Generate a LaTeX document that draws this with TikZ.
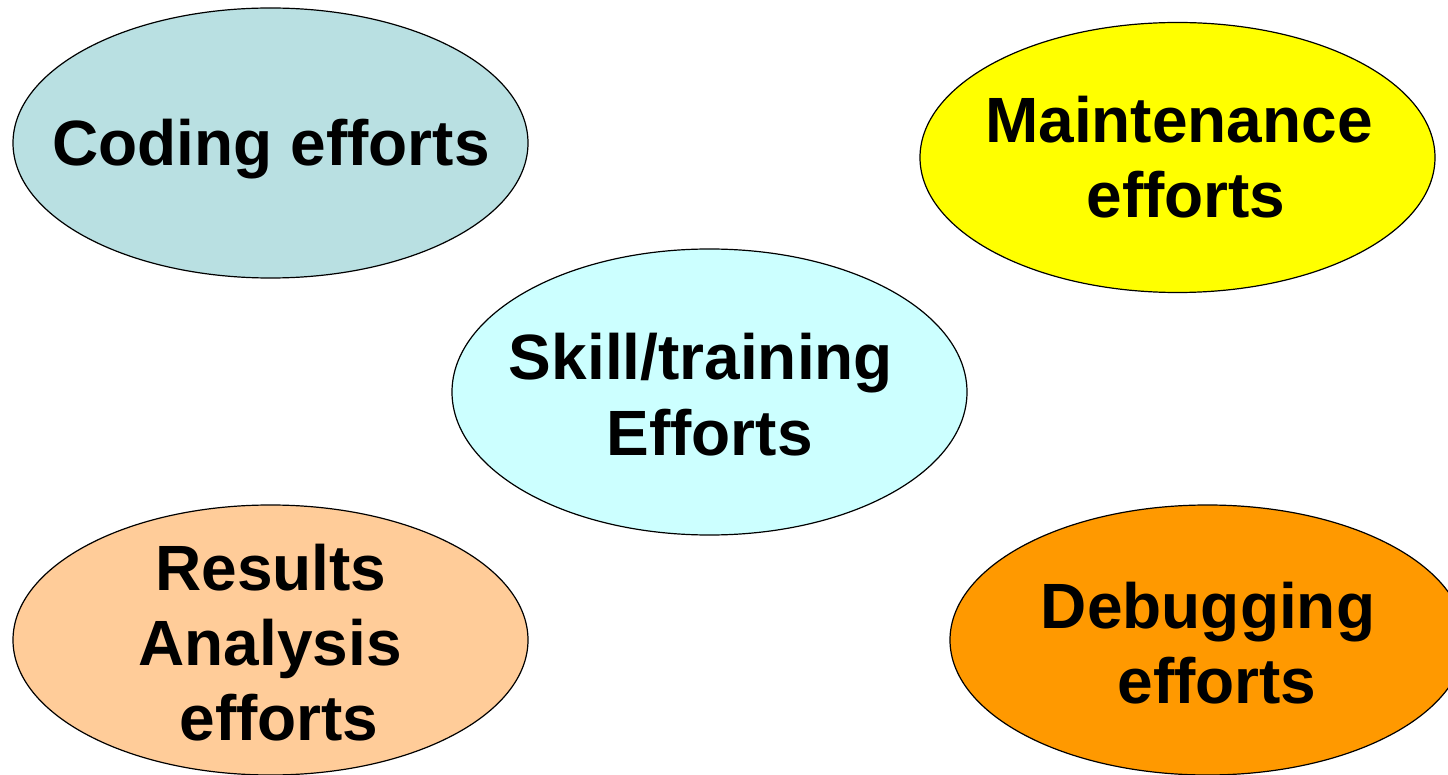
\documentclass[tikz,border=0pt]{standalone}
\usepackage{fontspec}
\setmainfont{Liberation Sans}
\usetikzlibrary{shapes.geometric}
\definecolor{codecol}{RGB}{185,224,226}
\definecolor{maintcol}{RGB}{255,255,0}
\definecolor{skillcol}{RGB}{204,255,255}
\definecolor{rescol}{RGB}{255,204,153}
\definecolor{debugcol}{RGB}{255,153,0}
\begin{document}
\begin{tikzpicture}[x=1pt,y=-1pt,
  blob/.style={ellipse, draw=black, line width=1.2pt, inner sep=0pt,
               minimum width=515pt, minimum height=270pt},
  lbl/.style={font=\fontsize{64}{75}\selectfont\bfseries, inner sep=0pt, anchor=base}]
\useasboundingbox (0,0) rectangle (1448,775);
\clip (0,0) rectangle (1448,775);
% ellipses
\node[blob, fill=codecol] (coding) at (270.5,143) {};
\node[blob, fill=maintcol] (maint) at (1177.5,157.5) {};
\node[blob, fill=skillcol, minimum height=286pt] (skill) at (709.5,392) {};
\node[blob, fill=rescol] (res) at (270.5,640) {};
\node[blob, fill=debugcol] (debug) at (1207.5,640) {};
% labels
\node[lbl] (coding1) at (271,166) {Coding efforts};
\node[lbl] (maint1) at (1179,143) {Maintenance};
\node[lbl] (maint2) at (1186,218) {efforts};
\node[lbl] (skill1) at (701,380) {Skill/training};
\node[lbl] (skill2) at (709.5,455) {Efforts};
\node[lbl] (res1) at (271,590) {Results};
\node[lbl] (res2) at (270,665) {Analysis};
\node[lbl] (res3) at (279,740) {efforts};
\node[lbl] (debug1) at (1208,628) {Debugging};
\node[lbl] (debug2) at (1217,703) {efforts};
\end{tikzpicture}
\end{document}
